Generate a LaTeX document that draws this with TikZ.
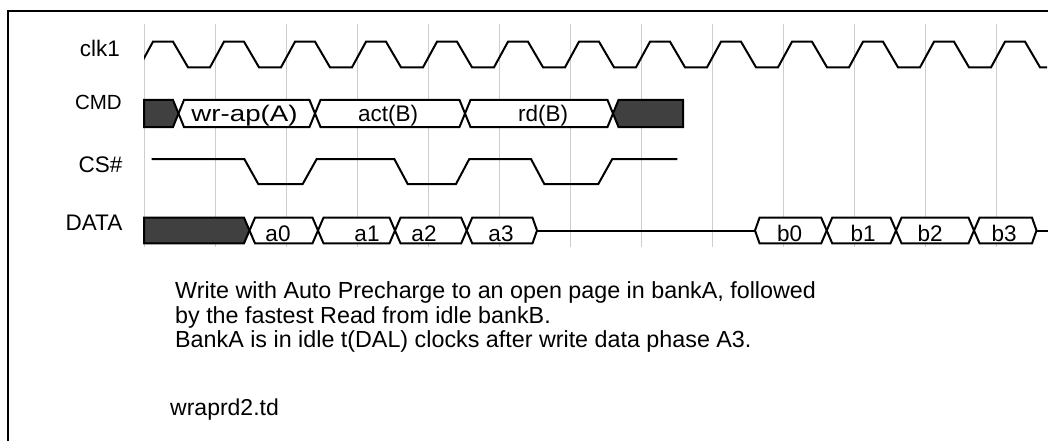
\documentclass[tikz,border=0pt]{standalone}
\usepackage{graphicx}
\usepackage{fontspec}
\setmainfont{Liberation Sans}
\definecolor{busdark}{RGB}{64,64,64}
\definecolor{gridgray}{RGB}{205,205,205}
\begin{document}
\begin{tikzpicture}[x=1pt,y=-1pt,
  sig/.style={draw=black,line width=2pt},
  gridline/.style={draw=gridgray,line width=1pt},
  darkbus/.style={fill=busdark,draw=black,line width=2pt},
  bus/.style={fill=white,draw=black,line width=2pt},
  lbl/.style={font=\fontsize{22.5}{26}\selectfont,anchor=base east,inner sep=0pt},
  val/.style={font=\fontsize{22.5}{26}\selectfont,anchor=base,inner sep=0pt},
  captxt/.style={font=\fontsize{23.3}{27}\selectfont,anchor=base west,inner sep=0pt}]
\useasboundingbox (0,0) rectangle (1048,441);
% frame
\draw[line width=2.2pt] (7.7,445) -- (7.7,11) -- (1052,11);
% grid
\foreach \k in {0,...,12} \draw[gridline] ({144+71*\k},24) -- ({144+71*\k},247);
% labels
\node[lbl] (lclk) at (120,56.7) {clk1};
\node[lbl,font=\fontsize{20.5}{22}\selectfont] (lcmd) at (122,110) {CMD};
\node[lbl] (lcs) at (122.5,172.7) {CS\#};
\node[lbl] (ldata) at (122.5,230.7) {DATA};
% clock
\begin{scope}
\clip (144,0) rectangle (1047,100);
\draw[sig] (60,67.3) \foreach \k in {0,...,13}{ -- ({144+71*\k-5},67.3) -- ({144+71*\k+9},41.7) -- ({144+71*\k+29},41.7) -- ({144+71*\k+44},67.3)};
\end{scope}
% CMD bus
\draw[darkbus] (144,100) -- (173,100) -- (178.5,113.5) -- (173,127) -- (144,127) -- cycle;
\draw[bus] (178.5,113.5) -- (184,100) -- (309.5,100) -- (315,113.5) -- (309.5,127) -- (184,127) -- cycle;
\draw[bus] (315,113.5) -- (320.5,100) -- (459.5,100) -- (465,113.5) -- (459.5,127) -- (320.5,127) -- cycle;
\draw[bus] (465,113.5) -- (470.5,100) -- (607.5,100) -- (613,113.5) -- (607.5,127) -- (470.5,127) -- cycle;
\draw[darkbus] (613,113.5) -- (618.5,100) -- (683,100) -- (683,127) -- (618.5,127) -- cycle;
\node[val] (vwr) at (244.5,121.7) {\scalebox{1.23}[1]{wr-ap(A)}};
\node[val] (vact) at (388,121.7) {act(B)};
\node[val] (vrd) at (543,121.7) {rd(B)};
% CS#
\draw[sig] (151.7,159) -- (244.3,159) -- (258.3,184) -- (302.7,184) -- (316.7,159) -- (394.3,159) -- (407.7,184) -- (456,184) -- (469.3,159) -- (531,159) -- (544.3,184) -- (598.3,184) -- (612.3,159) -- (677.3,159);
% DATA bus
\draw[darkbus] (144,217.7) -- (244,217.7) -- (249.5,230.5) -- (244,243.3) -- (144,243.3) -- cycle;
\draw[bus] (249.5,230.5) -- (255,217.7) -- (312.5,217.7) -- (318,230.5) -- (312.5,243.3) -- (255,243.3) -- cycle;
\draw[bus] (318,230.5) -- (323.5,217.7) -- (389.5,217.7) -- (395,230.5) -- (389.5,243.3) -- (323.5,243.3) -- cycle;
\draw[bus] (395,230.5) -- (400.5,217.7) -- (461.2,217.7) -- (466.7,230.5) -- (461.2,243.3) -- (400.5,243.3) -- cycle;
\draw[bus] (466.7,230.5) -- (472.2,217.7) -- (532.5,217.7) -- (537,230.5) -- (532.5,243.3) -- (472.2,243.3) -- cycle;
\draw[sig] (537,230.5) -- (755,230.5);
\draw[bus] (755,230.5) -- (759.5,217.7) -- (821.2,217.7) -- (826.7,230.5) -- (821.2,243.3) -- (759.5,243.3) -- cycle;
\draw[bus] (826.7,230.5) -- (832.2,217.7) -- (890.5,217.7) -- (896,230.5) -- (890.5,243.3) -- (832.2,243.3) -- cycle;
\draw[bus] (896,230.5) -- (901.5,217.7) -- (968.5,217.7) -- (974,230.5) -- (968.5,243.3) -- (901.5,243.3) -- cycle;
\draw[bus] (974,230.5) -- (979.5,217.7) -- (1032,217.7) -- (1036.5,230.5) -- (1032,243.3) -- (979.5,243.3) -- cycle;
\draw[sig] (1036.5,230.5) -- (1052,230.5);
\node[val] (va0) at (278,241.7) {a0};
\node[val] (va1) at (367,241.7) {a1};
\node[val] (va2) at (424,241.7) {a2};
\node[val] (va3) at (501,241.7) {a3};
\node[val] (vb0) at (789.5,241.7) {b0};
\node[val] (vb1) at (863,241.7) {b1};
\node[val] (vb2) at (930,241.7) {b2};
\node[val] (vb3) at (1004,241.7) {b3};
% caption
\node[captxt] (c1) at (175,298.3) {Write with Auto Precharge to an open page in bankA, followed};
\node[captxt] (c2) at (175,323) {by the fastest Read from idle bankB.};
\node[captxt] (c3) at (175,347.5) {BankA is in idle t(DAL) clocks after write data phase A3.};
\node[captxt,font=\fontsize{23}{27}\selectfont] (c4) at (170,415) {wraprd2.td};
\end{tikzpicture}
\end{document}
